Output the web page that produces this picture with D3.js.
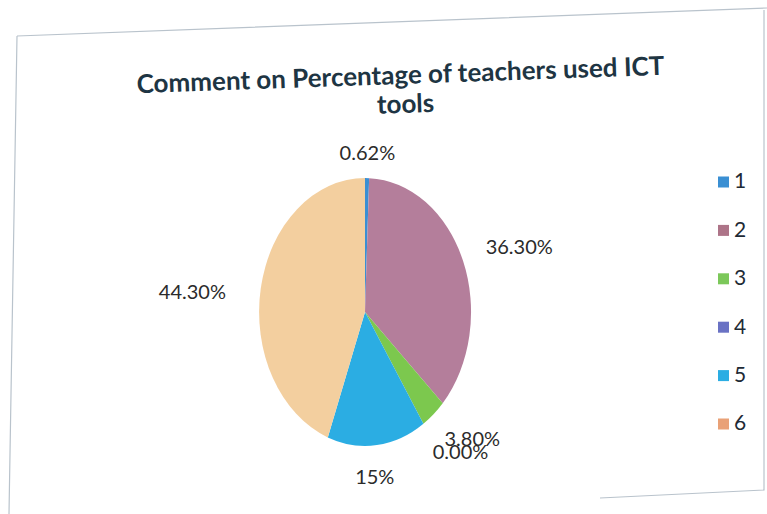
<!DOCTYPE html>
<html>
<head>
<meta charset="utf-8">
<script src="https://cdn.jsdelivr.net/npm/d3@7"></script>
<style>
  body { margin: 0; background: #fff; }
  svg { display: block; }
</style>
</head>
<body>
<div class="chart-container"></div>
<script>
var width = 767;
var height = 514;

// data
var categories = ['1', '2', '3', '4', '5', '6'];
var values = [0.62, 36.30, 3.80, 0.00, 15, 44.30];
var valueLabels = ['0.62%', '36.30%', '3.80%', '0.00%', '15%', '44.30%'];
var sliceColors = ['#3a8fd3', '#b47e9b', '#7cc84e', '#6d74c9', '#2badE3', '#f3cf9f'];
var legendColors = ['#3a8fd3', '#ad7488', '#7cc85a', '#6a72c4', '#2badE3', '#e9a177'];

var cx = 365, cy = 312;
var rx = 106, ry = 134;

var svg = d3.select('.chart-container').append('svg')
  .attr('width', width)
  .attr('height', height);

// chart frame (photographed slightly askew)
svg.append('path')
  .attr('d', 'M17,36 L767,8 M17,36 L9,514 M764,10 L764,490 L600,498')
  .attr('fill', 'none')
  .attr('stroke', '#b9c3cc')
  .attr('stroke-width', 1.2);

var title = svg.append('g')
  .attr('transform', 'rotate(-2, 400, 90)')
  .attr('font-family', 'Lato, "Open Sans", sans-serif')
  .attr('font-weight', 'bold')
  .attr('font-size', 26)
  .attr('fill', '#1e3543')
  .attr('text-anchor', 'middle');
title.append('text').attr('x', 401).attr('y', 84).text('Comment on Percentage of teachers used ICT');
title.append('text').attr('x', 405).attr('y', 113).text('tools');

var pie = d3.pie().sort(null).value(d => d);
var arcs = pie(values);

var arc = d3.arc().innerRadius(0).outerRadius(1);

var pieG = svg.append('g')
  .attr('transform', `translate(${cx},${cy}) scale(${rx},${ry})`);
pieG.selectAll('path')
  .data(arcs)
  .enter().append('path')
    .attr('d', arc)
    .attr('fill', (d, i) => sliceColors[i]);

// data labels outside the ellipse (3.80% and 0.00% overlap, as in the original)
var labelPos = [
  {k: 1.16, dx: 0, dy: -2},
  {k: 1.16, dx: 7, dy: -4},
  {k: 1.16, dx: 0, dy: 10},
  {k: 1.16, dx: 0, dy: 12},
  {k: 1.16, dx: -4, dy: 12},
  {k: 1.16, dx: -18, dy: 10}
];

svg.append('g')
  .attr('font-family', 'Lato, "Open Sans", sans-serif')
  .attr('font-size', 20)
  .attr('fill', '#2b2b2b')
  .selectAll('text')
  .data(arcs)
  .enter().append('text')
    .attr('x', (d, i) => {
      var a = (d.startAngle + d.endAngle) / 2;
      return cx + Math.sin(a) * rx * labelPos[i].k + labelPos[i].dx;
    })
    .attr('y', (d, i) => {
      var a = (d.startAngle + d.endAngle) / 2;
      return cy - Math.cos(a) * ry * labelPos[i].k + labelPos[i].dy;
    })
    .attr('text-anchor', d => {
      var s = Math.sin((d.startAngle + d.endAngle) / 2);
      return s > 0.3 ? 'start' : (s < -0.3 ? 'end' : 'middle');
    })
    .attr('dominant-baseline', 'middle')
    .text((d, i) => valueLabels[i]);

var legend = svg.append('g')
  .attr('font-family', 'Lato, "Open Sans", sans-serif')
  .attr('font-size', 21)
  .attr('fill', '#1e2a35');

var ly = d3.scalePoint().domain(categories).range([182, 424]);

var item = legend.selectAll('g')
  .data(categories)
  .enter().append('g')
    .attr('transform', d => `translate(718, ${ly(d)})`);
item.append('rect')
  .attr('x', 0).attr('y', -5.5)
  .attr('width', 11).attr('height', 11)
  .attr('fill', (d, i) => legendColors[i]);
item.append('text')
  .attr('x', 16).attr('y', 1)
  .attr('dominant-baseline', 'middle')
  .text(d => d);
</script>
</body>
</html>
